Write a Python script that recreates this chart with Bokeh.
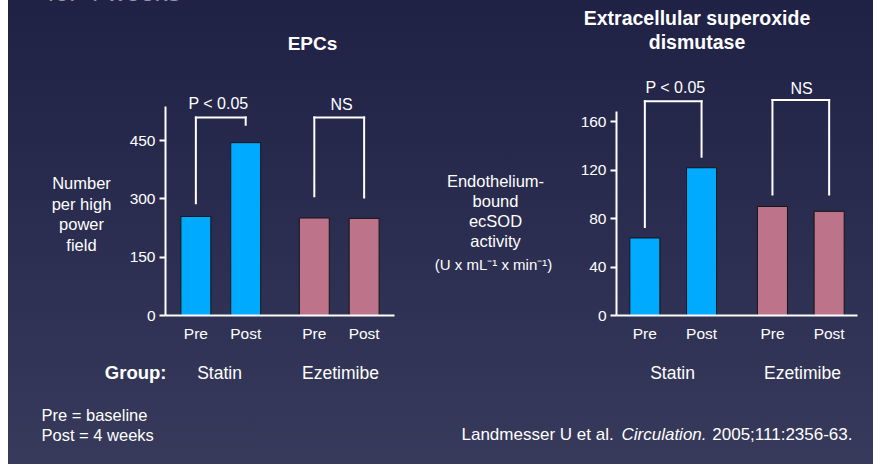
from bokeh.plotting import figure
from bokeh.models import FactorRange, Range1d, Label, FixedTicker, ColumnDataSource
from bokeh.layouts import row, column
from bokeh.embed import file_html
from bokeh.resources import INLINE

# ---------------- data ----------------
groups = ["Statin", "Ezetimibe"]
phases = ["Pre", "Post"]
epc_values = [255, 445, 251, 250]          # Number per high power field
sod_values = [64, 122, 90, 86]             # ecSOD activity
epc_ticks = [0, 150, 300, 450]
sod_ticks = [0, 40, 80, 120, 160]
bracket_labels = ["P < 0.05", "NS"]
epc_bracket_top = [510, 510]
epc_bracket_pre = [289, 307]
epc_bracket_post = [491, 304]
sod_bracket_top = [177, 178]
sod_bracket_pre = [73, 100]
sod_bracket_post = [131, 100]
bar_colors = ["#00aaff", "#00aaff", "#bd7389", "#bd7389"]
epc_ylabel = ["Number", "per high", "power", "field"]
sod_ylabel = ["Endothelium-", "bound", "ecSOD", "activity"]
sod_units = "(U x mL\u207b\u00b9 x min\u207b\u00b9)"

FONT = "Liberation Sans"
factors = [(g, ph) for g in groups for ph in phases]

MID_TOP, MID_BOTTOM = 62, 352      # page rows: titles | charts | footer
ZERO_PX = 315                      # page y of the charts' baseline
BB = MID_BOTTOM - ZERO_PX          # common bottom border of the middle band


def style_blank(p):
    p.background_fill_color = None
    p.border_fill_color = None
    p.outline_line_color = None


def label(p, x, y, text, size="16.5px", style="normal", align="center",
          baseline="middle", **kw):
    p.add_layout(Label(x=x, y=y, text=text, text_align=align, text_baseline=baseline,
                       text_color="white", text_font=FONT, text_font_size=size,
                       text_font_style=style, **kw))


def text_fig(x0, x1, y0, y1, bb=0):
    """A transparent panel whose data coordinates are page pixels."""
    p = figure(width=x1 - x0, height=y1 - y0, x_range=Range1d(x0, x1),
               y_range=Range1d(y1 - bb, y0), x_axis_type=None, y_axis_type=None,
               min_border=0, min_border_bottom=bb,
               output_backend="svg", toolbar_location=None)
    style_blank(p)
    p.grid.visible = False
    return p


class Chart:
    def __init__(self, values, ticks, px_per_unit, axis_top, x0, x1,
                 frame_left, frame_w, gpad, rpad, bar_w, tops, pre_ends, post_ends):
        bl = frame_left - x0
        br = (x1 - x0) - bl - frame_w
        ymax = (ZERO_PX - MID_TOP) / px_per_unit
        p = figure(x_range=FactorRange(*factors, group_padding=gpad, range_padding=rpad),
                   y_range=Range1d(0, ymax), width=x1 - x0, height=MID_BOTTOM - MID_TOP,
                   min_border_left=bl, min_border_right=br, min_border_top=0,
                   min_border_bottom=BB, output_backend="svg", toolbar_location=None)
        p.extra_y_ranges = {"px": Range1d(ZERO_PX, MID_TOP)}
        style_blank(p)
        p.xgrid.visible = False
        p.ygrid.visible = False

        span = 2 * len(phases) + gpad
        half = span * rpad / 2
        self.syn0, self.syn1 = -half, span + half
        self.frame_left, self.frame_w = frame_left, frame_w

        src = ColumnDataSource(dict(x=factors, top=values, color=bar_colors))
        p.vbar(x="x", top="top", width=bar_w, fill_color="color", line_color="#151515",
               line_width=1, source=src)

        x0s, y0s, x1s, y1s = [], [], [], []
        for g, t, pe, po in zip(groups, tops, pre_ends, post_ends):
            x0s += [(g, "Pre"), (g, "Pre"), (g, "Post")]
            y0s += [pe, t, t]
            x1s += [(g, "Pre"), (g, "Post"), (g, "Post")]
            y1s += [t, t, po]
        bsrc = ColumnDataSource(dict(x0=x0s, y0=y0s, x1=x1s, y1=y1s))
        p.segment(x0="x0", y0="y0", x1="x1", y1="y1", line_color="white",
                  line_width=2, line_cap="square", source=bsrc)

        yax = p.yaxis[0]
        yax.ticker = FixedTicker(ticks=ticks)
        yax.bounds = (0, axis_top)
        yax.axis_line_color = "white"
        yax.axis_line_width = 2
        yax.major_tick_line_color = "white"
        yax.major_tick_line_width = 2
        yax.major_tick_out = 6
        yax.major_tick_in = 0
        yax.minor_tick_line_color = None
        yax.major_label_text_color = "white"
        yax.major_label_text_font = FONT
        yax.major_label_text_font_size = "15.5px"
        yax.major_label_standoff = 4

        xax = p.xaxis[0]
        xax.axis_line_color = "white"
        xax.axis_line_width = 2
        xax.major_tick_line_color = None
        xax.minor_tick_line_color = None
        xax.major_label_text_color = "white"
        xax.major_label_text_font = FONT
        xax.major_label_text_font_size = "15.5px"
        xax.major_label_standoff = 3
        xax.group_text_color = None
        xax.group_text_font_size = "1px"
        xax.separator_line_color = None
        self.p = p

    def text(self, x, y, text, size="16px"):
        sx = self.syn0 + (x - self.frame_left) / self.frame_w * (self.syn1 - self.syn0)
        label(self.p, sx, y, text, size=size, y_range_name="px")


# ---------------- top band: titles ----------------
top = text_fig(8, 873, 0, MID_TOP)
label(top, 47, -8.5, "for 4 weeks", size="26px", align="left")
label(top, 312, 43, "EPCs", size="19px", style="bold")
label(top, 696.5, 17.7, "Extracellular superoxide", size="19.5px", style="bold")
label(top, 696.5, 41.7, "dismutase", size="19.5px", style="bold")

# ---------------- middle band: y labels and charts ----------------
lt = text_fig(8, 120, MID_TOP, MID_BOTTOM, BB)
for i, line in enumerate(epc_ylabel):
    label(lt, 81, 182.7 + i * 20.5, line)

c1 = Chart(epc_values, epc_ticks, 0.3884, 538.1, 120, 430, 165, 229,
           0.377, 0.05, 0.6, epc_bracket_top, epc_bracket_pre, epc_bracket_post)
c1.text(218, 103, bracket_labels[0])
c1.text(341, 104, bracket_labels[1])

rt = text_fig(430, 560, MID_TOP, MID_BOTTOM, BB)
for i, line in enumerate(sod_ylabel):
    label(rt, 495, 180 + i * 20.2, line)
label(rt, 493, 264, sod_units, size="15px")

c2 = Chart(sod_values, sod_ticks, 1.211, 168.7, 560, 873, 616, 241,
           0.25, 0.0, 0.53, sod_bracket_top, sod_bracket_pre, sod_bracket_post)
c2.text(675, 87, bracket_labels[0])
c2.text(801, 88, bracket_labels[1])

# ---------------- bottom band: groups and notes ----------------
bot = text_fig(8, 873, MID_BOTTOM, 464)
label(bot, 166, 372, "Group:", size="18.5px", style="bold", align="right")
label(bot, 219, 372, groups[0], size="17.5px")
label(bot, 340, 372, groups[1], size="17.5px")
label(bot, 672, 372, groups[0], size="17.5px")
label(bot, 802, 372, groups[1], size="17.5px")
label(bot, 41, 414, "Pre = baseline", align="left")
label(bot, 41, 434, "Post = 4 weeks", align="left")
label(bot, 461, 434, "Landmesser U et al.", size="17px", align="left")
label(bot, 621, 434, "Circulation.", size="17px", style="italic", align="left")
label(bot, 852, 434, "2005;111:2356-63.", size="17px", align="right")

layout = column(top, row(lt, c1.p, rt, c2.p), bot, styles={
    "background": "linear-gradient(to bottom, #1f2145 0%, #373a5b 100%)",
    "margin-left": "8px",
})

open("out.html", "w").write(file_html(layout, INLINE))
